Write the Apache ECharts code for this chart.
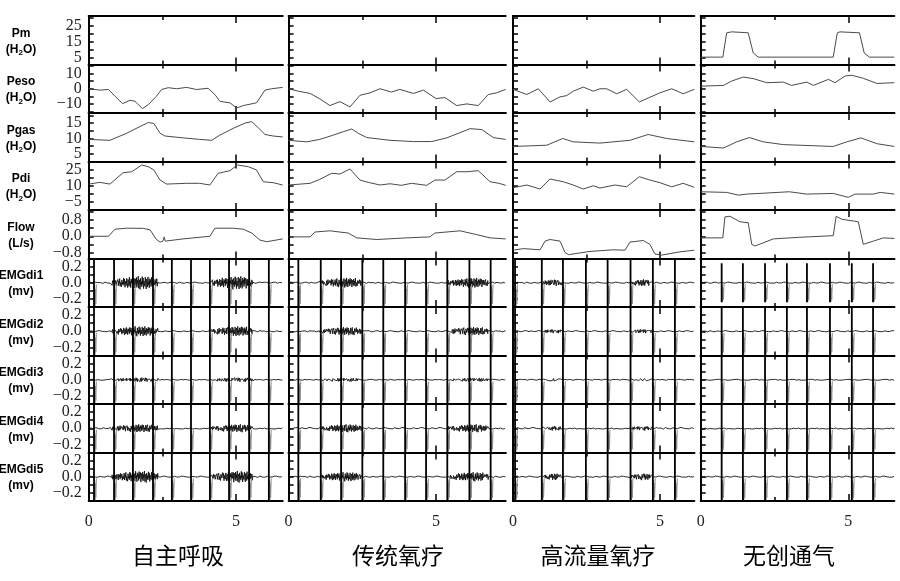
<!DOCTYPE html>
<html>
<head>
<meta charset="utf-8">
<script src="https://cdn.jsdelivr.net/npm/echarts@6/dist/echarts.min.js"></script>
<style>
  html, body { margin: 0; padding: 0; background: #fff; }
  #chart { width: 900px; height: 581px; }
</style>
</head>
<body>
<div id="chart"></div>
<script>
// 四种通气方式
const columns = ['自主呼吸', '传统氧疗', '高流量氧疗', '无创通气'];
const rowNames = [
  ['Pm', 'H2O'], ['Peso', 'H2O'], ['Pgas', 'H2O'], ['Pdi', 'H2O'], ['Flow', 'L/s'],
  ['EMGdi1', 'mv'], ['EMGdi2', 'mv'], ['EMGdi3', 'mv'], ['EMGdi4', 'mv'], ['EMGdi5', 'mv']
];
const xMax = [6.58, 7.36, 6.17, 6.56];

// y axis per row
const yMin = [1, -16, 2.5, -13, -1.1, -0.3, -0.3, -0.3, -0.3, -0.3];
const yMax = [31.3, 16, 18.3, 33, 1.3, 0.3, 0.3, 0.3, 0.3, 0.3];
const emgTicks = [-0.2, -0.1, 0, 0.1, 0.2];
const yTicks = [
  [5, 10, 15, 20, 25, 30], [-15, -10, -5, 0, 5, 10, 15], [5, 7.5, 10, 12.5, 15, 17.5],
  [-12.5, -5, 2.5, 10, 17.5, 25, 32.5], [-0.8, -0.4, 0, 0.4, 0.8, 1.2],
  emgTicks, emgTicks, emgTicks, emgTicks, emgTicks
];
const emgLabels = [-0.2, 0, 0.2];
const yLabels = [
  [5, 15, 25], [-10, 0, 10], [5, 10, 15], [-5, 10, 25], [-0.8, 0, 0.8],
  emgLabels, emgLabels, emgLabels, emgLabels, emgLabels
];

// 压力/流量曲线 [秒, 数值]
const pm1 = [], pm2 = [], pm3 = [];
const pm4 = [[0,5.6],[0.75,5.6],[0.88,20.8],[1.05,21.4],[1.61,20.8],[1.78,8.2],[1.95,5.6],[4.49,5.6],[4.63,20.8],[4.72,21.4],[5.38,20.8],[5.54,8.2],[5.72,5.6],[6.56,5.6]];

const peso1 = [[0,0],[0.38,-0.9],[0.67,-0.5],[0.89,-4.9],[1.15,-9.8],[1.4,-7.6],[1.57,-8.3],[1.82,-13.1],[2.02,-10.5],[2.3,-4.9],[2.47,-0.5],[2.7,0.7],[2.98,0],[3.32,0.9],[3.66,-0.5],[4.05,0.3],[4.28,-3.8],[4.45,-8.3],[4.79,-9.3],[5.02,-12.7],[5.24,-11.1],[5.69,-9.3],[5.98,-0.9],[6.2,0],[6.58,0.9]];
const peso2 = [[0,0],[0.33,-1.6],[0.73,-3.1],[1.06,-6.7],[1.4,-11.1],[1.74,-8.5],[2.08,-12],[2.42,-4.3],[2.76,-2.7],[3.1,0],[3.49,-2.2],[3.77,-0.4],[4.23,-3.1],[4.57,-0.9],[5.0,-6.5],[5.3,-5.8],[5.7,-11.1],[6.04,-10],[6.43,-11.1],[6.77,-3.8],[7.05,-2.7],[7.36,-0.4]];
const peso3 = [[0,-0.4],[0.47,-3.8],[0.86,0],[1.26,-8.7],[1.6,-5.4],[1.83,-4.5],[2.05,-1.6],[2.39,1.1],[2.73,-1.6],[2.96,0],[3.19,0],[3.53,-3.3],[3.87,-0.4],[4.3,-8.7],[4.66,-5.6],[5.0,-2.7],[5.4,0],[5.79,-3.3],[6.17,-0.4]];
const peso4 = [[0,1.7],[0.77,2.2],[1.05,5.1],[1.44,7.7],[1.78,6.7],[2.24,4],[2.8,4.4],[3.08,2.2],[3.59,4.4],[3.82,2.2],[4.33,6.2],[4.55,4],[4.89,8.4],[5.12,8.9],[5.51,6.9],[5.97,3.5],[6.56,4]];

const pgas1 = [[0,9.7],[0.72,9.4],[1.29,11.7],[1.74,13.9],[2.02,15.2],[2.21,14.9],[2.42,11.7],[2.59,10.8],[3.2,10.2],[3.76,9.7],[4.17,9.4],[4.45,11.1],[4.9,13.3],[5.3,15],[5.53,15.5],[5.75,13.5],[5.98,11.3],[6.26,10.8],[6.58,10.5]];
const pgas2 = [[0,9.4],[0.61,8.9],[1.06,9.7],[1.52,11.1],[1.85,12.2],[2.14,13.1],[2.36,11.7],[2.65,10.3],[3.44,9.4],[4.23,9],[4.85,9],[5.36,10.2],[5.81,11.9],[6.15,13.2],[6.55,12.9],[6.94,10.3],[7.36,9.7]];
const pgas3 = [[0,7.4],[1.15,7.8],[1.69,10],[2.05,8.9],[2.96,8.5],[3.98,9.4],[4.6,11.3],[5.23,10],[6.17,8.9]];
const pgas4 = [[0,7.4],[0.77,6.9],[1.22,8.9],[1.65,10.3],[2.12,8.9],[2.8,8],[4.49,7.4],[4.95,8.9],[5.43,10.2],[5.97,8.3],[6.56,7.4]];

const pdi1 = [[0,11.6],[0.38,13.2],[0.72,11.6],[1.17,22.4],[1.46,23.3],[1.8,29.7],[2.02,28.1],[2.21,25],[2.42,15.4],[2.64,11.6],[3.32,12.3],[3.76,12.3],[4.11,10.7],[4.39,21.8],[4.79,24.3],[5.04,29.7],[5.41,28.1],[5.69,25],[5.92,13.8],[6.26,12.9],[6.58,10.7]];
const pdi2 = [[0,10.7],[0.73,12.3],[1.06,16.1],[1.46,21.8],[1.74,21.1],[2.08,25.9],[2.42,15.4],[2.7,13.2],[3.1,10.7],[3.44,11.9],[3.82,10.4],[4.17,12.3],[4.68,10.4],[4.96,15.4],[5.3,15.4],[5.7,23.3],[6.04,23.3],[6.43,24.3],[6.83,13.8],[7.13,12.3],[7.36,10.4]];
const pdi3 = [[0,8.1],[0.47,10.7],[0.92,6.9],[1.26,16.4],[1.71,13.8],[2.05,10.7],[2.39,6.9],[2.73,10],[2.96,7.8],[3.47,10.7],[3.87,9],[4.3,18.6],[4.66,15.4],[5.0,12.9],[5.4,9],[5.79,12.3],[6.17,8.5]];
const pdi4 = [[0,4.3],[0.88,3.7],[1.28,1.1],[1.56,2.1],[2.24,3.1],[3.0,4.3],[3.59,2.1],[4.49,2.7],[5.0,-1],[5.23,2.1],[5.85,2.1],[6.08,3.7],[6.56,2.1]];

const flow1 = [[0,0],[0.67,0],[0.89,0.35],[1.29,0.4],[1.85,0.39],[2.08,0.32],[2.3,-0.16],[2.42,-0.29],[2.52,-0.24],[2.56,-0.03],[2.6,-0.24],[3.2,-0.13],[4.11,0],[4.28,0.4],[4.9,0.4],[5.24,0.35],[5.53,0.16],[5.81,-0.19],[6.04,-0.27],[6.58,-0.13]];
const flow2 = [[0,-0.03],[0.73,-0.03],[0.89,0.21],[1.4,0.27],[2.02,0.16],[2.31,-0.08],[2.99,-0.16],[4.0,-0.08],[4.79,-0.03],[4.96,0.16],[5.81,0.27],[6.38,0.08],[6.83,-0.08],[7.36,-0.13]];
const flow3 = [[0,-0.69],[0.35,-0.61],[0.92,-0.67],[1.09,-0.24],[1.26,-0.16],[1.6,-0.24],[1.77,-0.8],[1.89,-0.91],[2.62,-0.75],[3.41,-0.67],[3.81,-0.69],[3.98,-0.29],[4.43,-0.21],[4.66,-0.4],[4.83,-0.88],[5.06,-0.93],[5.68,-0.77],[6.17,-0.69]];
const flow4 = [[0,-0.08],[0.75,-0.08],[0.82,0.96],[0.99,0.99],[1.33,0.72],[1.61,0.67],[1.73,-0.4],[1.84,-0.48],[2.46,-0.13],[3.36,-0.05],[4.49,0.03],[4.59,0.99],[4.78,0.84],[5.34,0.72],[5.51,-0.4],[5.85,-0.24],[6.19,-0.08],[6.56,-0.11]];

const analog = [
  [pm1, pm2, pm3, pm4], [peso1, peso2, peso3, peso4], [pgas1, pgas2, pgas3, pgas4],
  [pdi1, pdi2, pdi3, pdi4], [flow1, flow2, flow3, flow4]
];

// 膈肌肌电：心电伪迹时刻、吸气爆发区间
const beats1 = [0.18, 0.86, 1.50, 2.18, 2.82, 3.47, 4.11, 4.76, 5.44, 6.11];
const beats2 = [0.33, 1.09, 1.78, 2.50, 3.21, 3.95, 4.66, 5.38, 6.13, 6.85];
const beats3 = [0.07, 0.98, 1.70, 2.48, 3.22, 4.00, 4.76, 5.51];
const beats4 = [0.71, 1.43, 2.18, 2.92, 3.60, 4.38, 5.12, 5.84];
const bursts1 = [[0.78, 2.35], [4.17, 5.57]];
const bursts2 = [[1.07, 2.48], [5.41, 6.77]];
const bursts3 = [[0.98, 1.66], [3.98, 4.72]];
const bursts4 = [];
const burstAmp = [
  [0.075, 0.055, 0.022, 0.04, 0.065],
  [0.055, 0.045, 0.018, 0.04, 0.05],
  [0.035, 0.018, 0.01, 0.018, 0.035],
  [0, 0, 0, 0, 0]
];
const baseAmp = [0.008, 0.008, 0.006, 0.01, 0.008];
const spikeScale = [[1, 1, 1, 1, 1], [1, 1, 1, 1, 1], [1, 1, 1, 1, 1], [0.8, 1, 1, 1, 1]];
// 伪迹：竖直主峰 + 右侧灰色振荡尾
const spikeMain = [[0, 0.3], [0, -0.3]];
const spikeTail = [[0.01, -0.3], [0.02, -0.04], [0.03, -0.29], [0.045, -0.08], [0.06, -0.26], [0.08, -0.02]];
const burstEnv = [0.4, 0.6, 0.75, 0.85, 1, 1, 0.9, 0.6];
const noise = [0.31,-0.52,0.84,-0.17,-0.93,0.62,0.08,-0.71,0.95,-0.38,0.22,-0.84,0.67,-0.05,0.49,-0.63,0.88,-0.27,-0.56,0.74,-0.91,0.13,0.58,-0.45,0.79,-0.69,0.36,-0.12,0.97,-0.81,0.05,0.43,-0.98,0.66,-0.33,0.18,-0.59,0.91,-0.24,0.71,-0.87,0.27];
const beats = [beats1, beats2, beats3, beats4];
const bursts = [bursts1, bursts2, bursts3, bursts4];

function emgBase (c, ch) {
  const step = 0.015;
  const pts = [];
  for (let i = 0; i * step <= xMax[c]; i++) {
    const t = i * step;
    let amp = baseAmp[ch];
    bursts[c].forEach(([s, e]) => {
      if (t >= s && t <= e) {
        const k = Math.min(burstEnv.length - 1, Math.floor((t - s) / (e - s) * burstEnv.length));
        amp += burstAmp[c][ch] * burstEnv[k];
      }
    });
    pts.push([t, noise[(i + ch * 7 + c * 3) % noise.length] * amp]);
  }
  return pts;
}

function spikeData (shape, c, ch) {
  const pts = [];
  beats[c].forEach(b => {
    shape.forEach(([dt, v]) => pts.push([b + dt, v * spikeScale[c][ch]]));
    pts.push([b + 0.09, null]);
  });
  return pts;
}

// 布局
const colLeft = [88.7, 288.6, 513, 700.7];
const colWidth = [194, 217.1, 181.3, 193.6];
const top0 = 16;
const rowH = 48.5;
const titleX = [178, 398, 598, 789];
const serif = 'Liberation Serif';

function fmt (r) {
  return function (v) {
    const s = r >= 4 ? v.toFixed(1) : String(v);
    return s.replace('-', '\u2212');
  };
}

function yLabelStyle (r, values) {
  return {
    show: true, customValues: values, margin: 7, hideOverlap: false,
    fontFamily: serif, fontSize: 16, color: '#222', formatter: fmt(r)
  };
}

const grids = [], xAxes = [], yAxes = [], series = [], titles = [];
for (let r = 0; r < 10; r++) {
  for (let c = 0; c < 4; c++) {
    const g = r * 4 + c;
    grids.push({ left: colLeft[c], top: top0 + r * rowH, width: colWidth[c], height: rowH });
    [['bottom', 2.5, 4], ['bottom', 5, 7], ['top', 2.5, 4], ['top', 5, 7]].forEach(([pos, tv, len], k) => {
      xAxes.push({
        type: 'value', gridIndex: g, position: pos, min: 0, max: xMax[c],
        axisLine: { show: k === 0 || k === 2, onZero: false, lineStyle: { color: '#000', width: 2 } },
        axisTick: { show: true, inside: true, length: len, customValues: [tv], lineStyle: { color: '#000', width: 1.5 } },
        axisLabel: (k === 0 && r === 9)
          ? { show: true, customValues: [0, 5], margin: 13, fontFamily: serif, fontSize: 16, color: '#222' }
          : { show: false },
        splitLine: { show: false }
      });
    });
    const yi = yAxes.length;
    const labs = yLabels[r];
    yAxes.push({
      type: 'value', gridIndex: g, position: 'left', min: yMin[r], max: yMax[r],
      axisLine: { show: true, onZero: false, lineStyle: { color: '#000', width: 2 } },
      axisTick: { show: true, inside: true, length: 5, customValues: yTicks[r], lineStyle: { color: '#000', width: 1.5 } },
      axisLabel: c === 0 ? yLabelStyle(r, [labs[0], labs[2]]) : { show: false },
      splitLine: { show: false }
    });
    if (c === 0) {
      // middle label on its own axis so it is never dropped
      yAxes.push({
        type: 'value', gridIndex: g, position: 'left', min: yMin[r], max: yMax[r],
        axisLine: { show: false }, axisTick: { show: false },
        axisLabel: yLabelStyle(r, [labs[1]]),
        splitLine: { show: false }
      });
    }
    const isEmg = r >= 5;
    const base = { type: 'line', xAxisIndex: g * 4, yAxisIndex: yi, showSymbol: false, clip: true, silent: true };
    if (!isEmg) {
      series.push(Object.assign({}, base, { data: analog[r][c], lineStyle: { color: '#4a4a4a', width: 1 } }));
    } else {
      const ch = r - 5;
      series.push(Object.assign({}, base, { data: emgBase(c, ch), lineStyle: { color: '#111', width: 0.9 } }));
      series.push(Object.assign({}, base, { data: spikeData(spikeTail, c, ch), connectNulls: false, lineStyle: { color: '#8c8c8c', width: 1 } }));
      series.push(Object.assign({}, base, { data: spikeData(spikeMain, c, ch), connectNulls: false, lineStyle: { color: '#000', width: 1.8 } }));
    }
  }
  const cy = top0 + r * rowH + rowH / 2;
  const unit = rowNames[r][1];
  const second = unit === 'H2O' ? '{a|(H}{s|2}{a|O)}' : '{a|(' + unit + ')}';
  titles.push({
    text: '{a|' + rowNames[r][0] + '}\n' + second,
    left: 21, top: cy - 15, textAlign: 'center', padding: 0,
    textStyle: {
      rich: {
        a: { fontFamily: 'Liberation Sans', fontWeight: 'bold', fontSize: 12, lineHeight: 16, color: '#000' },
        s: { fontFamily: 'Liberation Sans', fontWeight: 'bold', fontSize: 8, lineHeight: 16, verticalAlign: 'bottom', padding: [5, 0, 0, 0], color: '#000' }
      }
    }
  });
}
columns.forEach((name, c) => {
  titles.push({
    text: name, left: titleX[c], top: 544, textAlign: 'center', padding: 0,
    textStyle: { fontFamily: 'Noto Sans CJK SC', fontWeight: 'normal', fontSize: 23, color: '#000' }
  });
});

const chart = echarts.init(document.getElementById('chart'));
chart.setOption({
  animation: false,
  backgroundColor: '#fff',
  title: titles,
  grid: grids,
  xAxis: xAxes,
  yAxis: yAxes,
  series: series
});
</script>
</body>
</html>
